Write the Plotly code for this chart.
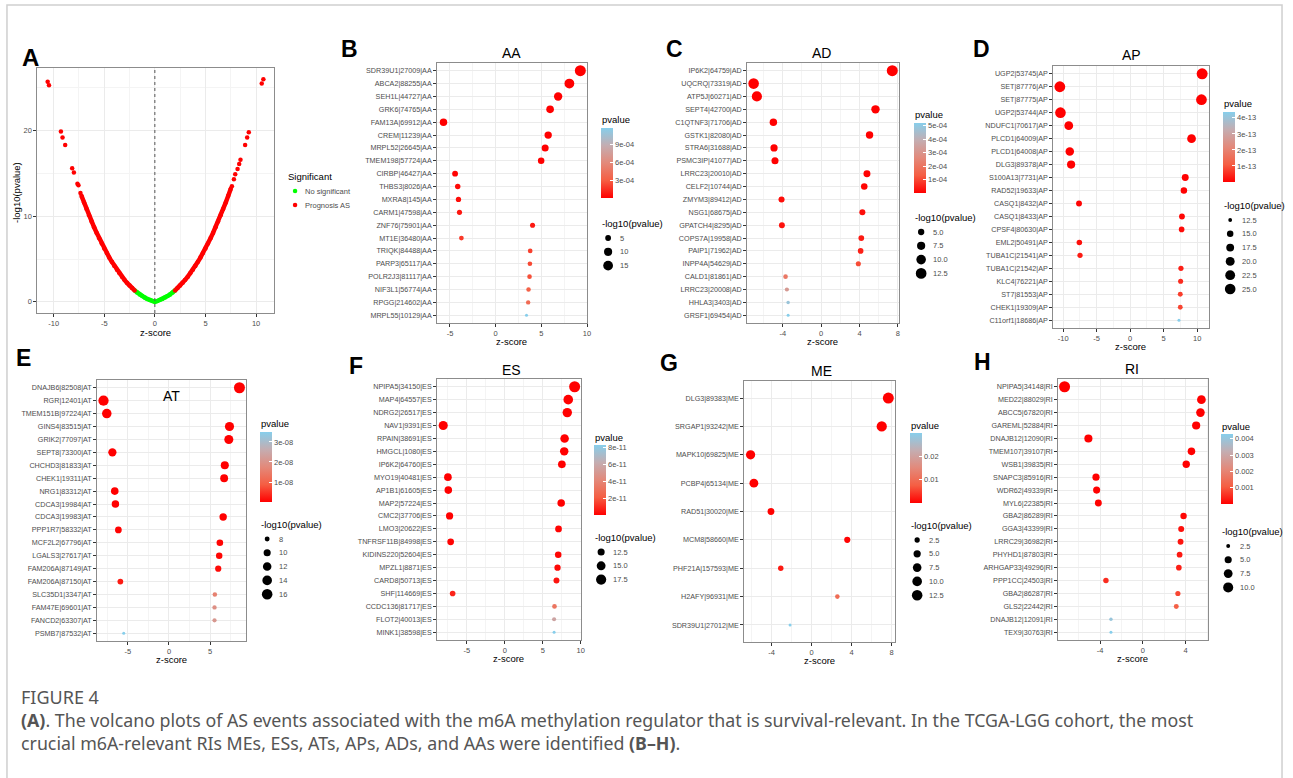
import math
import plotly.graph_objects as go

# ---------------- data: panel A (volcano) ----------------
volc_green_z = [-1.95, -1.75, -1.5, -1.25, -1.0, -0.75, -0.5, -0.25, 0.0, 0.25, 0.5, 0.75, 1.0, 1.25, 1.5, 1.75, 1.95]
volc_green_y = [1.29, 1.10, 0.87, 0.68, 0.50, 0.34, 0.21, 0.10, 0.0, 0.10, 0.21, 0.34, 0.50, 0.68, 0.87, 1.10, 1.29]
volc_red_left_z = [-7.25, -7.0, -6.75, -6.5, -6.25, -6.0, -5.75, -5.5, -5.25, -5.0, -4.75, -4.5, -4.25, -4.0,
                   -3.75, -3.5, -3.25, -3.0, -2.75, -2.5, -2.25, -2.0]
volc_red_left_y = [12.38, 11.59, 10.83, 10.10, 9.39, 8.71, 8.05, 7.42, 6.82, 6.24, 5.69, 5.17, 4.67, 4.20,
                   3.75, 3.33, 2.94, 2.57, 2.22, 1.91, 1.61, 1.34]
volc_red_right_z = [2.0, 2.25, 2.5, 2.75, 3.0, 3.25, 3.5, 3.75, 4.0, 4.25, 4.5, 4.75, 5.0, 5.25, 5.5, 5.75,
                    6.0, 6.25, 6.5, 6.75, 7.0, 7.25, 7.5]
volc_red_right_y = [1.34, 1.61, 1.91, 2.22, 2.57, 2.94, 3.33, 3.75, 4.20, 4.67, 5.17, 5.69, 6.24, 6.82, 7.42,
                    8.05, 8.71, 9.39, 10.10, 10.83, 11.59, 12.38, 13.20]
volc_sparse_z = [-10.59, -10.46, -9.28, -9.12, -8.86, -8.17, -8.0, -7.65, -7.55, -7.35,
                 7.61, 7.81, 7.94, 8.17, 8.33, 8.46, 8.92, 9.12, 9.28, 10.56, 10.72]
volc_sparse_y = [25.7, 25.3, 19.9, 19.2, 18.3, 15.6, 15.1, 13.8, 13.6, 12.7,
                 13.5, 14.3, 14.9, 15.5, 16.1, 16.6, 18.3, 19.2, 19.8, 25.5, 26.0]
volc_x_ticks = [-10, -5, 0, 5, 10]
volc_y_ticks = [0, 10, 20]

# ---------------- data: panels B-H ----------------
aa_labels = ["SDR39U1|27009|AA", "ABCA2|88255|AA", "SEH1L|44727|AA", "GRK6|74765|AA", "FAM13A|69912|AA",
             "CREM|11239|AA", "MRPL52|26645|AA", "TMEM198|57724|AA", "CIRBP|46427|AA", "THBS3|8026|AA",
             "MXRA8|145|AA", "CARM1|47598|AA", "ZNF76|75901|AA", "MT1E|36480|AA", "TRIQK|84488|AA",
             "PARP3|65117|AA", "POLR2J3|81117|AA", "NIF3L1|56774|AA", "RPGG|214602|AA", "MRPL55|10129|AA"]
aa_z = [9.27, 8.07, 6.84, 5.96, -5.71, 5.75, 5.42, 4.98, -4.44, -4.15, -4.07, -3.96, 4.04, -3.75, 3.78,
        3.75, 3.71, 3.60, 3.56, 3.38]
aa_nlp = [19.8, 15.2, 10.5, 8.6, 8.15, 8.0, 7.2, 6.2, 5.05, 4.5, 4.35, 4.15, 4.1, 3.75, 3.7, 3.65, 3.6,
          3.5, 3.42, 2.93]

ad_labels = ["IP6K2|64759|AD", "UQCRQ|73319|AD", "ATP5J|60271|AD", "SEPT4|42700|AD", "C1QTNF3|71706|AD",
             "GSTK1|82080|AD", "STRA6|31688|AD", "PSMC3IP|41077|AD", "LRRC23|20010|AD", "CELF2|10744|AD",
             "ZMYM3|89412|AD", "NSG1|68675|AD", "GPATCH4|8295|AD", "COPS7A|19958|AD", "PAIP1|71962|AD",
             "INPP4A|54629|AD", "CALD1|81861|AD", "LRRC23|20008|AD", "HHLA3|3403|AD", "GRSF1|69454|AD"]
ad_z = [7.42, -7.04, -6.70, 5.67, -4.98, 5.05, -4.91, -4.81, 4.78, 4.50, -4.13, 4.30, -4.09, 4.19, 4.12,
        3.88, -3.71, -3.57, -3.44, -3.44]
ad_nlp = [13.2, 12.2, 11.3, 7.85, 6.35, 6.3, 6.05, 5.85, 5.75, 5.2, 4.75, 4.7, 4.6, 4.45, 4.35, 3.98,
          3.68, 3.5, 3.32, 3.285]

ap_labels = ["UGP2|53745|AP", "SET|87776|AP", "SET|87775|AP", "UGP2|53744|AP", "NDUFC1|70617|AP",
             "PLCD1|64009|AP", "PLCD1|64008|AP", "DLG3|89378|AP", "S100A13|7731|AP", "RAD52|19633|AP",
             "CASQ1|8432|AP", "CASQ1|8433|AP", "CPSF4|80630|AP", "EML2|50491|AP", "TUBA1C|21541|AP",
             "TUBA1C|21542|AP", "KLC4|76221|AP", "ST7|81553|AP", "CHEK1|19309|AP", "C11orf1|18686|AP"]
ap_z = [10.74, -10.49, 10.64, -10.40, -9.16, 9.16, -9.01, -8.81, 8.22, 8.02, -7.63, 7.73, 7.68, -7.58,
        -7.48, 7.58, 7.53, 7.48, 7.48, 7.28]
ap_nlp = [26.2, 25.5, 25.4, 25.0, 19.6, 19.55, 18.9, 18.1, 15.7, 15.0, 14.2, 14.1, 13.9, 13.75, 13.5,
          13.45, 13.3, 13.15, 13.1, 12.36]

at_labels = ["DNAJB6|82508|AT", "RGR|12401|AT", "TMEM151B|97224|AT", "GINS4|83515|AT", "GRIK2|77097|AT",
             "SEPT8|73300|AT", "CHCHD3|81833|AT", "CHEK1|19311|AT", "NRG1|83312|AT", "CDCA3|19984|AT",
             "CDCA3|19983|AT", "PPP1R7|58332|AT", "MCF2L2|67796|AT", "LGALS3|27617|AT", "FAM206A|87149|AT",
             "FAM206A|87150|AT", "SLC35D1|3347|AT", "FAM47E|69601|AT", "FANCD2|63307|AT", "PSMB7|87532|AT"]
at_z = [8.57, -7.96, -7.56, 7.36, 7.28, -6.88, 6.79, 6.71, -6.59, -6.51, 6.59, -6.15, 6.19, 6.11, 5.99,
        -5.91, 5.58, 5.54, 5.54, -5.50]
at_nlp = [16.95, 15.2, 13.8, 13.1, 12.85, 11.55, 11.25, 11.0, 10.6, 10.4, 10.35, 9.5, 9.4, 9.25, 9.0,
          8.6, 7.8, 7.72, 7.68, 7.456]

es_labels = ["NPIPA5|34150|ES", "MAP4|64557|ES", "NDRG2|26517|ES", "NAV1|9391|ES", "RPAIN|38691|ES",
             "HMGCL|1080|ES", "IP6K2|64760|ES", "MYO19|40481|ES", "AP1B1|61605|ES", "MAP2|57224|ES",
             "CMC2|37706|ES", "LMO3|20622|ES", "TNFRSF11B|84998|ES", "KIDINS220|52604|ES", "MPZL1|8871|ES",
             "CARD8|50713|ES", "SHF|114669|ES", "CCDC136|81717|ES", "FLOT2|40013|ES", "MINK1|38598|ES"]
es_z = [9.20, 8.36, 8.23, -8.10, 7.88, 7.83, 7.52, -7.48, -7.43, 7.43, -7.26, 7.08, -7.12, 7.04, 6.95,
        6.81, -6.86, 6.55, 6.50, 6.50]
es_nlp = [19.25, 16.4, 15.95, 15.5, 14.5, 14.35, 13.25, 13.2, 13.1, 13.05, 12.6, 12.1, 12.05, 11.9,
          11.65, 11.35, 11.1, 10.5, 10.25, 10.084]

me_labels = ["DLG3|89383|ME", "SRGAP1|93242|ME", "MAPK10|69825|ME", "PCBP4|65134|ME", "RAD51|30020|ME",
             "MCM8|58660|ME", "PHF21A|157593|ME", "H2AFY|96931|ME", "SDR39U1|27012|ME"]
me_z = [7.68, 7.02, -6.10, -5.77, -4.06, 3.57, -3.08, 2.58, -2.15]
me_nlp = [13.8, 11.65, 9.0, 8.1, 4.3, 3.45, 2.69, 2.0, 1.523]

ri_labels = ["NPIPA5|34148|RI", "MED22|88029|RI", "ABCC5|67820|RI", "GAREML|52884|RI", "DNAJB12|12090|RI",
             "TMEM107|39107|RI", "WSB1|39835|RI", "SNAPC3|85916|RI", "WDR62|49339|RI", "MYL6|22385|RI",
             "GBA2|86289|RI", "GGA3|43399|RI", "LRRC29|36982|RI", "PHYHD1|87803|RI", "ARHGAP33|49296|RI",
             "PPP1CC|24503|RI", "GBA2|86287|RI", "GLS2|22442|RI", "DNAJB12|12091|RI", "TEX9|30763|RI"]
ri_z = [-7.33, 5.47, 5.38, 4.98, -5.10, 4.54, 4.05, -4.39, -4.33, -4.17, 3.80, 3.58, 3.52, 3.43, 3.36,
        -3.46, 3.27, 3.12, -2.99, -2.99]
ri_nlp = [12.2, 7.4, 7.2, 6.5, 6.4, 5.6, 5.3, 5.05, 4.95, 4.7, 4.1, 3.75, 3.65, 3.55, 3.45, 3.3, 3.1,
          2.95, 2.4, 2.368]

# colourbar ticks and size-legend breaks
aa_cb_vals, aa_cb_text = [3e-4, 6e-4, 9e-4], ["3e-04", "6e-04", "9e-04"]
ad_cb_vals, ad_cb_text = [1e-4, 2e-4, 3e-4, 4e-4, 5e-4], ["1e-04", "2e-04", "3e-04", "4e-04", "5e-04"]
ap_cb_vals, ap_cb_text = [1e-13, 2e-13, 3e-13, 4e-13], ["1e-13", "2e-13", "3e-13", "4e-13"]
at_cb_vals, at_cb_text = [1e-8, 2e-8, 3e-8], ["1e-08", "2e-08", "3e-08"]
es_cb_vals, es_cb_text = [2e-11, 4e-11, 6e-11, 8e-11], ["2e-11", "4e-11", "6e-11", "8e-11"]
me_cb_vals, me_cb_text = [0.01, 0.02], ["0.01", "0.02"]
ri_cb_vals, ri_cb_text = [0.001, 0.002, 0.003, 0.004], ["0.001", "0.002", "0.003", "0.004"]

aa_size_breaks, aa_size_text = [5, 10, 15], ["5", "10", "15"]
ad_size_breaks, ad_size_text = [5, 7.5, 10, 12.5], ["5.0", "7.5", "10.0", "12.5"]
ap_size_breaks, ap_size_text = [12.5, 15, 17.5, 20, 22.5, 25], ["12.5", "15.0", "17.5", "20.0", "22.5", "25.0"]
at_size_breaks, at_size_text = [8, 10, 12, 14, 16], ["8", "10", "12", "14", "16"]
es_size_breaks, es_size_text = [12.5, 15, 17.5], ["12.5", "15.0", "17.5"]
me_size_breaks, me_size_text = [2.5, 5, 7.5, 10, 12.5], ["2.5", "5.0", "7.5", "10.0", "12.5"]
ri_size_breaks, ri_size_text = [2.5, 5, 7.5, 10], ["2.5", "5.0", "7.5", "10.0"]

# ---------------- styling / layout helpers ----------------
W, H = 1293, 778
FONT = "Liberation Sans, Arial, sans-serif"
TXT = "#4D4D4D"
GRID = "#EBEBEB"
GRID_MINOR = "#F4F4F4"
BORDER = "#8C8C8C"
CSCALE = [[0, "#FF0000"], [0.25, "rgb(245,94,67)"], [0.5, "rgb(227,137,122)"],
          [0.75, "rgb(196,173,177)"], [1, "#87CEEB"]]


def fx(p):
    return p / W


def fy(p):
    return 1 - p / H


def msize(v, lo, hi):
    return 3 + 8 * math.sqrt(max(v - lo, 0) / (hi - lo))


def expand(vals, frac=0.05):
    lo, hi = min(vals), max(vals)
    d = (hi - lo) * frac
    return [lo - d, hi + d]


def tick_text(vals):
    return [("%g" % v) for v in vals]


fig = go.Figure()
shapes, anns = [], []
layout = {}


def ann(x, y, text, size=7.5, color=TXT, xanchor="left", yanchor="middle", angle=0, family=FONT):
    anns.append(dict(x=fx(x), y=fy(y), xref="paper", yref="paper", text=text, showarrow=False,
                     xanchor=xanchor, yanchor=yanchor, textangle=angle, borderpad=0,
                     font=dict(size=size, color=color, family=family)))


def circle(cx, cy, d, color):
    shapes.append(dict(type="circle", xref="paper", yref="paper", xsizemode="pixel", ysizemode="pixel",
                       xanchor=fx(cx), yanchor=fy(cy), x0=-d / 2, x1=d / 2, y0=-d / 2, y1=d / 2,
                       fillcolor=color, line=dict(width=0), layer="above"))


def xaxis_cfg(box, rng, ticks, minor_step, anchor):
    l, r, t, b = box
    return dict(domain=[fx(l), fx(r)], range=rng, tickmode="array", tickvals=ticks,
                ticktext=tick_text(ticks), ticks="outside", ticklen=2.5, tickcolor="#333333",
                tickfont=dict(size=7.5, color=TXT), showgrid=True, gridcolor=GRID, gridwidth=1,
                minor=dict(tickmode="linear", tick0=0, dtick=minor_step, showgrid=True,
                           gridcolor=GRID_MINOR, gridwidth=1),
                zeroline=False, showline=True, mirror=True, linecolor=BORDER, linewidth=1, anchor=anchor)


# ---------------- panel A ----------------
boxA = (37, 275, 68, 313)
all_x = volc_green_z + volc_red_left_z + volc_red_right_z + volc_sparse_z
all_y = volc_green_y + volc_red_left_y + volc_red_right_y + volc_sparse_y
layout["xaxis"] = xaxis_cfg(boxA, expand(all_x), volc_x_ticks, 2.5, "y")
layout["yaxis"] = dict(domain=[fy(boxA[3]), fy(boxA[2])], range=expand(all_y), tickmode="array",
                       tickvals=volc_y_ticks, ticktext=tick_text(volc_y_ticks), ticks="outside", ticklen=2.5,
                       tickcolor="#333333", tickfont=dict(size=7.5, color=TXT), showgrid=True,
                       gridcolor=GRID, minor=dict(tickmode="linear", tick0=0, dtick=5, showgrid=True,
                                                  gridcolor=GRID_MINOR),
                       zeroline=False, showline=True, mirror=True, linecolor=BORDER, anchor="x")

fig.add_trace(go.Scatter(x=volc_green_z, y=volc_green_y, mode="lines", line=dict(color="#00FF00", width=4.5),
                         xaxis="x", yaxis="y", hoverinfo="skip"))
fig.add_trace(go.Scatter(x=volc_red_left_z + [None] + volc_red_right_z,
                         y=volc_red_left_y + [None] + volc_red_right_y, mode="lines",
                         line=dict(color="#FF0000", width=4.5), xaxis="x", yaxis="y", hoverinfo="skip"))
fig.add_trace(go.Scatter(x=volc_green_z, y=volc_green_y, mode="markers", name="No significant",
                         marker=dict(color="#00FF00", size=4.5, opacity=1), xaxis="x", yaxis="y"))
fig.add_trace(go.Scatter(x=volc_red_left_z + volc_red_right_z + volc_sparse_z,
                         y=volc_red_left_y + volc_red_right_y + volc_sparse_y, mode="markers",
                         name="Prognosis AS", marker=dict(color="#FF0000", size=4.5, opacity=1),
                         xaxis="x", yaxis="y"))
shapes.append(dict(type="line", xref="x", yref="y domain", x0=0, x1=0, y0=0, y1=1,
                   line=dict(color="#555555", width=1, dash="dot")))
ann(156, 333, "z-score", size=9.5, color="#000000", xanchor="center")
ann(16, 192, "-log10(pvalue)", size=9.5, color="#000000", xanchor="center", angle=-90)
ann(288, 176, "Significant", size=9.5, color="#000000")
circle(296, 191, 4.5, "#00FF00")
ann(305, 191, "No significant")
circle(296, 205, 4.5, "#FF0000")
ann(305, 205, "Prognosis AS")
ann(31, 57, "<b>A</b>", size=24, color="#000000", xanchor="center")

# ---------------- panels B-H ----------------
panels = [
    dict(labels=aa_labels, z=aa_z, nlp=aa_nlp, cbv=aa_cb_vals, cbt=aa_cb_text, sb=aa_size_breaks,
         st=aa_size_text, title="AA", letter="B", box=(438, 589, 63, 323), step=5, cb=(603, 128),
         sleg=(603, 223), title_xy=(513, 53), letter_xy=(351, 49)),
    dict(labels=ad_labels, z=ad_z, nlp=ad_nlp, cbv=ad_cb_vals, cbt=ad_cb_text, sb=ad_size_breaks,
         st=ad_size_text, title="AD", letter="C", box=(749, 902, 63, 323), step=4, cb=(917, 123),
         sleg=(917, 217), title_xy=(824, 53), letter_xy=(677, 49)),
    dict(labels=ap_labels, z=ap_z, nlp=ap_nlp, cbv=ap_cb_vals, cbt=ap_cb_text, sb=ap_size_breaks,
         st=ap_size_text, title="AP", letter="D", box=(1056, 1213, 66, 328), step=5, cb=(1227, 112),
         sleg=(1227, 205), title_xy=(1135, 55), letter_xy=(985, 49)),
    dict(labels=at_labels, z=at_z, nlp=at_nlp, cbv=at_cb_vals, cbt=at_cb_text, sb=at_size_breaks,
         st=at_size_text, title="AT", letter="E", box=(97, 247, 380, 641), step=5, cb=(261, 432),
         sleg=(261, 524), title_xy=(172, 396), letter_xy=(24, 358)),
    dict(labels=es_labels, z=es_z, nlp=es_nlp, cbv=es_cb_vals, cbt=es_cb_text, sb=es_size_breaks,
         st=es_size_text, title="ES", letter="F", box=(438, 583, 379, 640), step=5, cb=(596, 445),
         sleg=(596, 537), title_xy=(513, 370), letter_xy=(357, 366)),
    dict(labels=me_labels, z=me_z, nlp=me_nlp, cbv=me_cb_vals, cbt=me_cb_text, sb=me_size_breaks,
         st=me_size_text, title="ME", letter="G", box=(746, 898, 381, 642), step=4, cb=(913, 433),
         sleg=(913, 525), title_xy=(824, 371), letter_xy=(671, 363)),
    dict(labels=ri_labels, z=ri_z, nlp=ri_nlp, cbv=ri_cb_vals, cbt=ri_cb_text, sb=ri_size_breaks,
         st=ri_size_text, title="RI", letter="H", box=(1061, 1212, 379, 640), step=4, cb=(1225, 434),
         sleg=(1225, 531), title_xy=(1136, 369), letter_xy=(986, 362)),
]

for i, pnl in enumerate(panels, start=2):
    l, r, t, b = pnl["box"]
    xr = expand(pnl["z"])
    step = pnl["step"]
    ticks = [k * step for k in range(math.ceil(xr[0] / step), math.floor(xr[1] / step) + 1)]
    layout["xaxis%d" % i] = xaxis_cfg(pnl["box"], xr, ticks, step / 2, "y%d" % i)
    n = len(pnl["labels"])
    layout["yaxis%d" % i] = dict(domain=[fy(b), fy(t)], type="category", categoryorder="array",
                                 categoryarray=pnl["labels"][::-1], range=[-0.6, n - 0.4],
                                 ticks="outside", ticklen=2.5, tickcolor="#333333",
                                 tickfont=dict(size=7.2, color=TXT), showgrid=True, gridcolor=GRID,
                                 zeroline=False, showline=True, mirror=True, linecolor=BORDER,
                                 anchor="x%d" % i)
    pvals = [10 ** (-v) for v in pnl["nlp"]]
    lo, hi = min(pnl["nlp"]), max(pnl["nlp"])
    ca = "coloraxis%d" % i
    fig.add_trace(go.Scatter(x=pnl["z"], y=pnl["labels"], mode="markers", xaxis="x%d" % i,
                             yaxis="y%d" % i, customdata=pvals,
                             hovertemplate="%{y}<br>z=%{x}<br>p=%{customdata:.2e}<extra></extra>",
                             marker=dict(size=[msize(v, lo, hi) for v in pnl["nlp"]], color=pvals,
                                         coloraxis=ca, opacity=1, line=dict(width=0))))
    cbx, cby = pnl["cb"]
    layout[ca] = dict(colorscale=CSCALE, cmin=min(pvals), cmax=max(pvals),
                      colorbar=dict(x=fx(cbx), xanchor="left", y=fy(cby), yanchor="top", len=70,
                                    lenmode="pixels", thickness=12, thicknessmode="pixels", xpad=0, ypad=0,
                                    outlinewidth=0, tickmode="array", tickvals=pnl["cbv"], ticktext=pnl["cbt"],
                                    ticks="inside", ticklen=3, tickcolor="white",
                                    tickfont=dict(size=7.5, color=TXT, family=FONT)))
    ann(cbx, cby - 8, "pvalue", size=9.5, color="#000000")
    sx, sy = pnl["sleg"]
    ann(sx, sy, "-log10(pvalue)", size=9.5, color="#000000")
    for k, (brk, txt) in enumerate(zip(pnl["sb"], pnl["st"])):
        yy = sy + 15 + k * 13.8
        circle(sx + 7, yy, msize(brk, lo, hi), "#000000")
        ann(sx + 18, yy, txt)
    tx, ty = pnl["title_xy"]
    ann(tx, ty, pnl["title"], size=14, color="#000000", xanchor="center")
    ann((l + r) / 2, b + 18.5, "z-score", size=9.5, color="#000000", xanchor="center")
    lx, ly = pnl["letter_xy"]
    ann(lx, ly, "<b>%s</b>" % pnl["letter"], size=23, color="#000000", xanchor="center")

# ---------------- caption and frame ----------------
CAP = "Noto Sans, Open Sans, sans-serif"
ann(20, 697, "FIGURE 4", size=18, color="#555555", family=CAP)
ann(20, 720, "<b>(A)</b>. The volcano plots of AS events associated with the m6A methylation regulator that is "
             "survival-relevant. In the TCGA-LGG cohort, the most", size=17.8, color="#555555", family=CAP)
ann(20, 743, "crucial m6A-relevant RIs MEs, ESs, ATs, APs, ADs, and AAs were identified <b>(B\u2013H)</b>.",
    size=17.8, color="#555555", family=CAP)
shapes.append(dict(type="rect", xref="paper", yref="paper", x0=fx(7), x1=fx(1286), y0=fy(820), y1=fy(5),
                   line=dict(color="#CFCFCF", width=1.5), fillcolor="rgba(0,0,0,0)", layer="below"))

layout.update(width=W, height=H, margin=dict(l=0, r=0, t=0, b=0), paper_bgcolor="white",
              plot_bgcolor="white", showlegend=False, font=dict(family=FONT, color=TXT),
              shapes=shapes, annotations=anns)
fig.update_layout(**layout)

fig.write_html("out.html", config={"displayModeBar": False},
               post_script="document.body.style.margin='0';document.body.style.overflow='hidden';")
